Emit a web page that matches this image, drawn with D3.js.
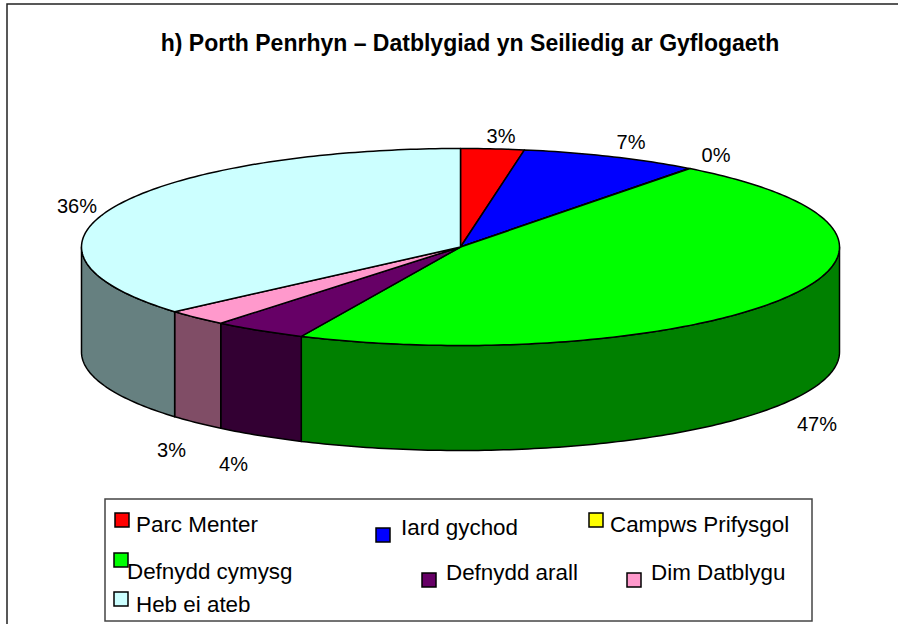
<!DOCTYPE html>
<html><head><meta charset="utf-8">
<script src="https://cdn.jsdelivr.net/npm/d3@7"></script>
<style>html,body{margin:0;padding:0;background:#fff}svg{display:block}text{font-family:"Liberation Sans",Arial,sans-serif;fill:#000}</style>
</head><body><svg id="c" width="898" height="624"></svg>
<script>
const title = "h) Porth Penrhyn – Datblygiad yn Seiliedig ar Gyflogaeth";
const categories = ["Parc Menter","Iard gychod","Campws Prifysgol","Defnydd cymysg","Defnydd arall","Dim Datblygu","Heb ei ateb"];
const values = [2.7,7.6,0.05,46.55,4.0,2.7,36.4];
const percentLabels = ["3%","7%","0%","47%","4%","3%","36%"];
const topColors = ["#ff0000","#0000ff","#ffff00","#00ff00","#660066","#ff99cc","#ccffff"];
const sideColors = ["#800000","#000080","#808000","#008000","#330033","#804d66","#668080"];

const cx=460.5,cy=247,rx=379,ry=98.5,depth=105;
const labelPos = [[501,143],[631,149],[716,162],[817,431],[233.5,471],[171.5,457],[77,213]];
const swatchPos = [[115,513],[376,528],[589,513],[114,553],[422,573],[627,573],[114,592]];
const textPos = [[136,532],[401,535],[610,532],[127,579],[446,580],[651,580],[136,612]];

const svg=d3.select("#c");
svg.append("rect").attr("x",7).attr("y",4).attr("width",1000).attr("height",700).attr("fill","#fff").attr("stroke","#222").attr("stroke-width",1.5);
svg.append("text").attr("x",470).attr("y",51).attr("text-anchor","middle").attr("font-weight","bold").attr("font-size",23).text(title);

const pie=d3.pie().sort(null).value(d=>d)(values);
const px=a=>cx+rx*Math.sin(a), py=(a,d=0)=>cy-ry*Math.cos(a)+d;
const line=d3.line();
const arcPts=(a0,a1,d=0)=>{const n=Math.max(2,Math.ceil((a1-a0)*60));return d3.range(n+1).map(i=>{const a=a0+(a1-a0)*i/n;return [px(a),py(a,d)];});};
const PI=Math.PI;
const walls=svg.append("g");
pie.forEach((p,i)=>{
  const a0=Math.max(p.startAngle,PI/2),a1=Math.min(p.endAngle,3*PI/2);
  if(a1<=a0||p.endAngle-p.startAngle<0.01)return;
  const pts=arcPts(a0,a1).concat(arcPts(a0,a1,depth).reverse());
  walls.append("path").attr("d",line(pts)+"Z").attr("fill",sideColors[i]).attr("stroke","#000").attr("stroke-width",1.5).attr("stroke-linejoin","round");
});
const tops=svg.append("g");
pie.forEach((p,i)=>{
  const pts=[[cx,cy]].concat(arcPts(p.startAngle,p.endAngle));
  tops.append("path").attr("d",line(pts)+"Z").attr("fill",topColors[i]).attr("stroke","#000").attr("stroke-width",1.5).attr("stroke-linejoin","round");
});
percentLabels.forEach((t,i)=>svg.append("text").attr("x",labelPos[i][0]).attr("y",labelPos[i][1]).attr("text-anchor","middle").attr("font-size",20).text(t));

svg.append("rect").attr("x",105).attr("y",499).attr("width",707).attr("height",122).attr("fill","#fff").attr("stroke","#444").attr("stroke-width",1.5);
categories.forEach((c,i)=>{
  svg.append("rect").attr("x",swatchPos[i][0]).attr("y",swatchPos[i][1]).attr("width",14).attr("height",14).attr("fill",topColors[i]).attr("stroke","#000").attr("stroke-width",1.5);
  svg.append("text").attr("x",textPos[i][0]).attr("y",textPos[i][1]).attr("font-size",22.4).text(c);
});
</script></body></html>
